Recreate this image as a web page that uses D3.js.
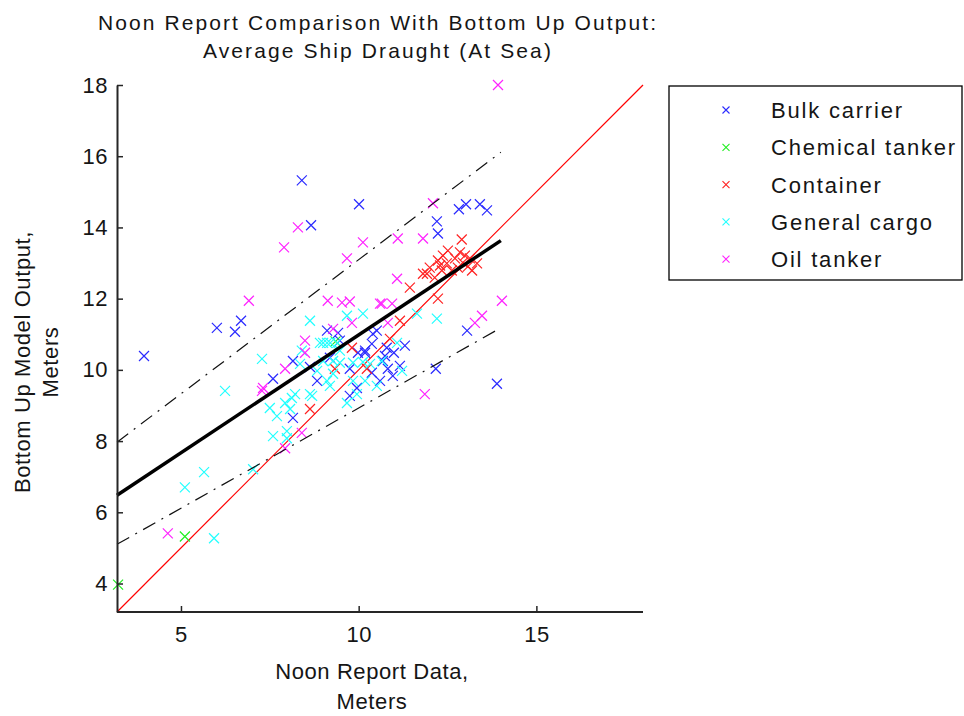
<!DOCTYPE html>
<html>
<head>
<meta charset="utf-8">
<script src="https://cdn.jsdelivr.net/npm/d3@7"></script>
<style>
  html, body { margin: 0; padding: 0; background: #fff; }
  svg { display: block; font-family: "Liberation Sans", Arial, sans-serif; }
</style>
</head>
<body>
<svg id="chart" width="964" height="716"></svg>
<script>
// ---- data ----
const categories = ["Bulk carrier", "Chemical tanker", "Container", "General cargo", "Oil tanker"];
const colors = ["#2a2aff", "#22ee22", "#ff2222", "#22ffff", "#ff22ff"];

const bulkX = [3.96, 6.01, 6.69, 6.52, 8.40, 8.66, 10.01, 12.20, 12.23, 12.82, 13.02, 13.41, 13.61, 13.05, 13.89, 12.17,
  9.11, 9.42, 9.98, 10.18, 10.40, 8.15, 7.59, 8.83, 9.75, 9.75, 8.15, 9.95, 10.37, 10.79, 10.68, 10.82, 10.18, 10.51,
  10.60, 10.96, 11.16, 9.47, 9.19, 8.63, 10.74, 10.99, 10.37, 11.30];
const bulkY = [10.39, 11.18, 11.38, 11.07, 15.32, 14.06, 14.65, 14.17, 13.83, 14.51, 14.65, 14.65, 14.48, 11.10, 9.61, 10.03,
  11.10, 11.04, 10.48, 10.54, 11.01, 10.25, 9.75, 9.69, 10.03, 9.27, 8.65, 9.49, 10.73, 10.62, 10.25, 10.03, 10.48, 11.10,
  9.69, 9.83, 10.11, 10.82, 10.34, 10.08, 10.39, 10.48, 9.92, 10.68];

const chemX = [3.23, 5.11, 9.35];
const chemY = [3.97, 5.32, 10.80];

const contX = [12.90, 11.44, 11.81, 12.00, 12.23, 12.37, 12.48, 12.34, 12.62, 12.85, 12.99, 12.93, 13.13, 12.79, 13.19, 13.33,
  12.14, 12.23, 11.92, 9.33, 10.23, 8.63, 9.81, 11.16, 10.88, 12.51, 12.71, 12.29, 13.07];
const contY = [13.66, 12.31, 12.70, 12.87, 13.07, 13.21, 12.99, 12.79, 12.79, 13.30, 13.21, 13.01, 13.13, 12.87, 12.79, 12.99,
  12.59, 12.00, 12.70, 10.03, 10.03, 8.90, 10.62, 11.38, 10.87, 13.35, 13.13, 12.93, 12.90];

const cargoX = [5.11, 5.65, 5.93, 7.03, 7.28, 6.24, 7.50, 7.70, 7.59, 7.98, 8.12, 8.07, 8.21, 7.93, 8.63, 9.11, 9.19, 9.67,
  9.95, 9.28, 8.91, 9.11, 9.47, 9.84, 10.12, 7.98, 8.69, 10.51, 8.63, 10.12, 9.67, 9.00, 9.20, 9.40, 8.40, 8.35, 8.83,
  9.00, 9.28, 9.47, 9.84, 10.32, 12.20, 11.08, 11.22, 10.18, 10.65, 11.64];
const cargoY = [6.70, 7.13, 5.27, 7.21, 10.31, 9.41, 8.93, 8.70, 8.14, 8.28, 9.21, 8.90, 9.32, 9.07, 9.32, 9.69, 9.55, 9.07,
  9.32, 10.25, 10.76, 10.76, 10.54, 10.20, 10.22, 8.08, 9.27, 9.55, 11.38, 11.58, 11.52, 10.76, 10.76, 10.76, 10.54, 10.17, 9.97,
  10.25, 9.89, 10.20, 9.69, 10.17, 11.44, 10.76, 9.97, 9.69, 10.25, 11.58];

const oilX = [13.92, 14.03, 13.47, 13.27, 11.86, 10.82, 10.60, 10.94, 12.09, 11.10, 11.81, 11.08, 6.91, 7.90, 8.29, 9.67,
  10.12, 9.13, 9.53, 9.75, 9.28, 8.49, 9.81, 8.49, 7.93, 7.31, 7.28, 8.40, 7.93, 4.63, 10.65];
const oilY = [18.00, 11.94, 11.52, 11.32, 9.32, 11.32, 11.86, 11.86, 14.68, 13.69, 13.69, 12.56, 11.94, 13.44, 14.00, 13.13,
  13.58, 11.94, 11.89, 11.92, 11.15, 10.82, 11.32, 10.48, 10.03, 9.49, 9.41, 8.23, 7.80, 5.41, 11.86];

const seriesX = [bulkX, chemX, contX, cargoX, oilX];
const seriesY = [bulkY, chemY, contY, cargoY, oilY];

// fitted line and dash-dot bounds (endpoints in data units)
const fitX = [3.2, 14.0];
const fitY = [6.48, 13.63];
const upperY = [7.97, 16.11];
const lowerY = [5.10, 11.18];
// identity line
const idX = [3.2, 18];

const xTicks = [5, 10, 15];
const yTicks = [4, 6, 8, 10, 12, 14, 16, 18];
const titleLines = ["Noon Report Comparison With Bottom Up Output:", "Average Ship Draught (At Sea)"];
const xLabelLines = ["Noon Report Data,", "Meters"];
const yLabelLines = ["Bottom Up Model Output,", "Meters"];

// ---- drawing ----
const svg = d3.select("#chart");
const x = d3.scaleLinear().domain([3.2, 18]).range([117, 643]);
const y = d3.scaleLinear().domain([3.2, 18]).range([612, 85]);
const axisColor = "#262626";
const txt = "#151515";

// identity line
svg.append("line")
  .attr("x1", x(idX[0])).attr("y1", y(idX[0]))
  .attr("x2", x(idX[1])).attr("y2", y(idX[1]))
  .attr("stroke", "#ff0000").attr("stroke-width", 1.2);

// markers
const s = 5;
seriesX.forEach((xs, i) => {
  const g = svg.append("g").attr("stroke", colors[i]).attr("stroke-width", 1.2).attr("fill", "none");
  const pts = xs.map((v, j) => [v, seriesY[i][j]]);
  g.selectAll("path").data(pts).join("path")
    .attr("d", d => {
      const px = x(d[0]), py = y(d[1]);
      return `M${px - s},${py - s}L${px + s},${py + s}M${px - s},${py + s}L${px + s},${py - s}`;
    });
});

// dash-dot bounds
[upperY, lowerY].forEach(ys => {
  svg.append("line")
    .attr("x1", x(fitX[0])).attr("y1", y(ys[0]))
    .attr("x2", x(fitX[1])).attr("y2", y(ys[1]))
    .attr("stroke", "#111").attr("stroke-width", 1.2)
    .attr("stroke-dasharray", "14,7,2,7");
});
// fitted line
svg.append("line")
  .attr("x1", x(fitX[0])).attr("y1", y(fitY[0]))
  .attr("x2", x(fitX[1])).attr("y2", y(fitY[1]))
  .attr("stroke", "#000").attr("stroke-width", 3.5);

// axes
const xAxis = d3.axisBottom(x).tickValues(xTicks).tickSizeInner(-6).tickSizeOuter(0).tickPadding(14);
const yAxis = d3.axisLeft(y).tickValues(yTicks).tickSizeInner(-6).tickSizeOuter(0).tickPadding(9);
const gx = svg.append("g").attr("transform", `translate(0,612)`).call(xAxis);
const gy = svg.append("g").attr("transform", `translate(117,0)`).call(yAxis);
[gx, gy].forEach(g => {
  g.select(".domain").attr("stroke", axisColor).attr("stroke-width", 2);
  g.selectAll(".tick line").attr("stroke", axisColor).attr("stroke-width", 1.5);
  g.selectAll(".tick text").attr("fill", txt).style("font-size", "22px")
    .style("letter-spacing", "0.5px")
    .style("font-family", "'Liberation Sans', Arial, sans-serif");
});
gx.select(".domain").attr("d", `M${x(3.2)},0H${x(18)}`);

// title
svg.append("g").selectAll("text").data(titleLines).join("text")
  .attr("x", 378).attr("y", (d, i) => 30 + i * 28)
  .attr("text-anchor", "middle").attr("fill", txt).style("font-size", "21px")
  .style("letter-spacing", "2.1px").text(d => d);

// x label
svg.append("g").selectAll("text").data(xLabelLines).join("text")
  .attr("x", 372).attr("y", (d, i) => 679 + i * 30)
  .attr("text-anchor", "middle").attr("fill", txt).style("font-size", "22px")
  .style("letter-spacing", "0.6px").text(d => d);

// y label
svg.append("g").attr("transform", "translate(0,362) rotate(-90)")
  .selectAll("text").data(yLabelLines).join("text")
  .attr("x", 0).attr("y", (d, i) => 30 + i * 28)
  .attr("text-anchor", "middle").attr("fill", txt).style("font-size", "22px")
  .style("letter-spacing", "0.6px").text(d => d);

// legend
const lg = svg.append("g");
lg.append("rect").attr("x", 669).attr("y", 86).attr("width", 293).attr("height", 194)
  .attr("fill", "#fff").attr("stroke", "#000").attr("stroke-width", 1.3);
categories.forEach((c, i) => {
  const cy = 110 + i * 37.3;
  const mx = 726, ms = 3.5;
  lg.append("path")
    .attr("d", `M${mx - ms},${cy - ms}L${mx + ms},${cy + ms}M${mx - ms},${cy + ms}L${mx + ms},${cy - ms}`)
    .attr("stroke", colors[i]).attr("stroke-width", 1.1);
  lg.append("text").attr("x", 771).attr("y", cy + 8).attr("fill", txt)
    .style("font-size", "22px").style("letter-spacing", "1.8px").text(c);
});
</script>
</body>
</html>
